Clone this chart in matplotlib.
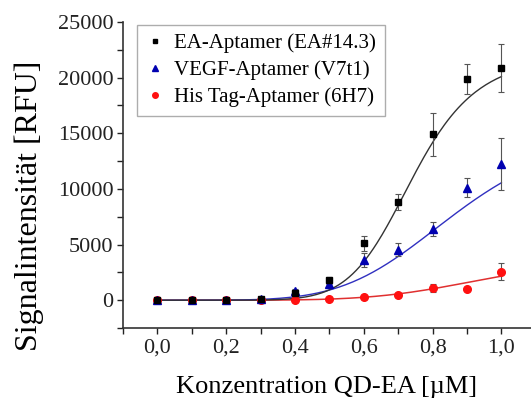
import numpy as np
import matplotlib
matplotlib.use("Agg")
import matplotlib.pyplot as plt
from matplotlib.ticker import MultipleLocator, FuncFormatter
from matplotlib.lines import Line2D

plt.rcParams['font.family'] = ['Liberation Serif', 'DejaVu Serif']

# concentration QD-EA [uM]
conc = [0.0, 0.1, 0.2, 0.3, 0.4, 0.5, 0.6, 0.7, 0.8, 0.9, 1.0]

# EA-Aptamer (EA#14.3)
ea_val = [0, 50, 0, 100, 650, 1800, 5100, 8850, 14900, 19850, 20900]
ea_err = [100, 150, 100, 150, 250, 300, 650, 700, 1950, 1350, 2150]

# VEGF-Aptamer (V7t1)
vegf_val = [0, 50, 0, 100, 800, 1450, 3600, 4550, 6400, 10100, 12250]
vegf_err = [100, 100, 100, 150, 200, 250, 600, 550, 650, 850, 2350]

# His Tag-Aptamer (6H7)
his_val = [0, 50, 0, 50, 50, 120, 250, 450, 1080, 1050, 2550]
his_err = [100, 100, 100, 100, 100, 100, 100, 150, 370, 150, 750]

labels = ['EA-Aptamer (EA#14.3)', 'VEGF-Aptamer (V7t1)', 'His Tag-Aptamer (6H7)']

# Hill fit parameters (A, K, n)
ea_fit = (22000, 0.742, 7.9)
vegf_fit = (16000, 0.876, 5.0)
his_fit = (4000, 0.971, 5.5)


def hill(x, p):
    a, k, n = p
    return a * x**n / (k**n + x**n)


fig = plt.figure(figsize=(5.31, 4.08), dpi=100)
ax = fig.add_axes([0.2316, 0.196, 0.7684, 0.75])

xs = np.linspace(0, 1, 200)
ax.plot(xs, hill(xs, his_fit), color='#e03030', lw=1.1, zorder=2)
ax.plot(xs, hill(xs, vegf_fit), color='#3030c0', lw=1, zorder=2)
ax.plot(xs, hill(xs, ea_fit), color='#333333', lw=1, zorder=2)

ekw = dict(ecolor='#555555', elinewidth=0.8, capsize=2.5, capthick=0.8, ls='none', zorder=3)
ax.errorbar(conc, his_val, yerr=his_err, marker='o', ms=5.5, color='#ff1010', mec='#ff1010', **ekw)
ax.errorbar(conc, vegf_val, yerr=vegf_err, marker='^', ms=6, color='#0000b0', mec='#0000b0', **ekw)
ax.errorbar(conc, ea_val, yerr=ea_err, marker='s', ms=5, color='black', **ekw)

ax.set_xlim(-0.1, -0.1 + 408 / 344)
ax.set_ylim(-2500, 25000)
ax.xaxis.set_major_locator(MultipleLocator(0.2))
ax.xaxis.set_minor_locator(MultipleLocator(0.1))
ax.yaxis.set_major_locator(MultipleLocator(5000))
ax.yaxis.set_minor_locator(MultipleLocator(2500))
ax.xaxis.set_major_formatter(FuncFormatter(lambda v, p: f"{v:.1f}".replace('.', ',')))
ax.tick_params(which='both', direction='out', length=4, width=1, labelsize=16, colors='#222222')
ax.tick_params(axis='x', pad=3.5)
ax.tick_params(axis='y', pad=3)

for s in ['top', 'right']:
    ax.spines[s].set_visible(False)
for s in ['left', 'bottom']:
    ax.spines[s].set_linewidth(1.2)
    ax.spines[s].set_color('#333333')

ax.set_xlabel('Konzentration QD-EA [µM]', fontsize=19, labelpad=13)
ax.set_ylabel('Signalintensität [RFU]', fontsize=23)
ax.yaxis.set_label_coords(-0.193, 0.4)

handles = [
    Line2D([], [], ls='none', marker='s', ms=3.5, color='black'),
    Line2D([], [], ls='none', marker='^', ms=4.5, color='#0000b0'),
    Line2D([], [], ls='none', marker='o', ms=4, color='#ff1010'),
]
leg = ax.legend(handles, labels, loc='upper left', bbox_to_anchor=(0.034, 0.99), borderaxespad=0,
                fontsize=15, handlelength=0.9, handletextpad=0.5, labelspacing=0.35,
                fancybox=False, edgecolor='#999999', borderpad=0.4, frameon=True)
leg.get_frame().set_linewidth(1)

fig.savefig('out.png', dpi=100)
